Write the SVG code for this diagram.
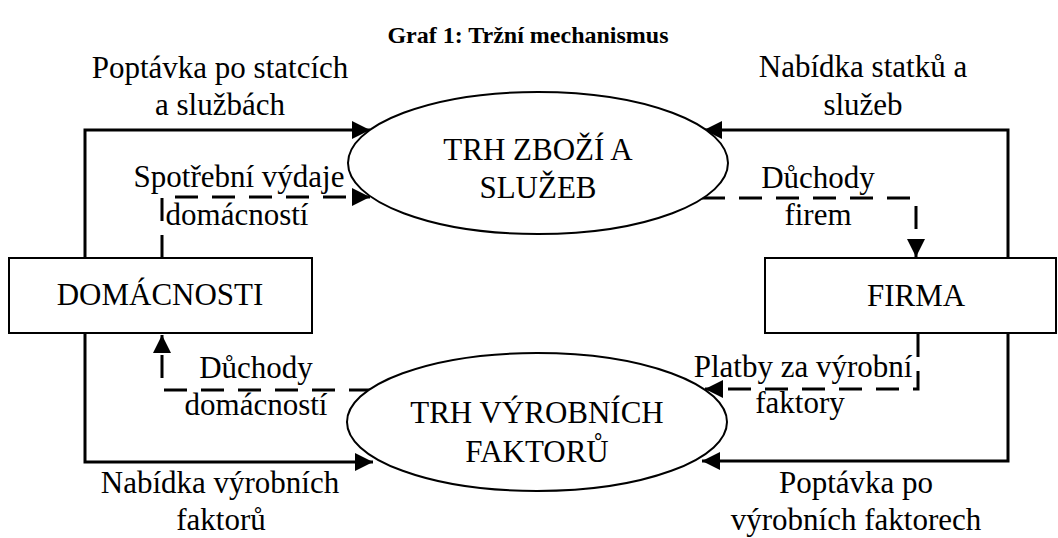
<svg xmlns="http://www.w3.org/2000/svg" width="1058" height="538" viewBox="0 0 1058 538">
<style>
text{font-family:"Liberation Serif","Times New Roman",serif;font-size:31px;fill:#000;text-anchor:middle}
.title{font-weight:bold;font-size:24px}
.shape{fill:#fff;stroke:#000;stroke-width:2}
.solid{fill:none;stroke:#000;stroke-width:3}
.dash{fill:none;stroke:#000;stroke-width:3;stroke-dasharray:23 14}
</style>
<defs>
<marker id="ah" markerUnits="userSpaceOnUse" markerWidth="18" markerHeight="18" refX="18" refY="9" orient="auto">
<path d="M0,0 L18,9 L0,18 z" fill="#000"/>
</marker>
</defs>
<rect width="1058" height="538" fill="#fff"/>
<text class="title" x="528" y="43">Graf 1: Tržní mechanismus</text>
<g id="connectors">
<path class="solid" d="M85,258 V130 H370" marker-end="url(#ah)"/>
<path class="solid" d="M85,333 V462 H373" marker-end="url(#ah)"/>
<path class="solid" d="M1008,258 V130 H704" marker-end="url(#ah)"/>
<path class="solid" d="M1008,333 V461 H702" marker-end="url(#ah)"/>
<path class="dash" d="M162,258 V197 H370" marker-end="url(#ah)"/>
<path class="dash" d="M702,198 H916 V257" marker-end="url(#ah)"/>
<path class="dash" d="M918,334 V389 H705" marker-end="url(#ah)"/>
<path class="dash" d="M372,390 H162 V335" marker-end="url(#ah)"/>
</g>
<g id="trh-zbozi">
<ellipse class="shape" cx="538" cy="163" rx="190" ry="71"/>
<text x="538" y="160">TRH ZBOŽÍ A</text>
<text x="538" y="198">SLUŽEB</text>
</g>
<g id="trh-faktoru">
<ellipse class="shape" cx="537" cy="422" rx="190" ry="69"/>
<text x="537" y="423">TRH VÝROBNÍCH</text>
<text x="537" y="462">FAKTORŮ</text>
</g>
<g id="domacnosti">
<rect class="shape" x="9" y="258" width="303" height="75"/>
<text x="160" y="305">DOMÁCNOSTI</text>
</g>
<g id="firma">
<rect class="shape" x="765" y="258" width="291" height="75"/>
<text x="916" y="306">FIRMA</text>
</g>
<g id="labels">
<text x="220" y="78">Poptávka po statcích</text>
<text x="220" y="115">a službách</text>
<text x="863" y="77">Nabídka statků a</text>
<text x="863" y="115">služeb</text>
<text x="239" y="187">Spotřební výdaje</text>
<text x="237" y="225">domácností</text>
<text x="818" y="188">Důchody</text>
<text x="818" y="225">firem</text>
<text x="256" y="378">Důchody</text>
<text x="256" y="415">domácností</text>
<text x="803" y="377">Platby za výrobní</text>
<text x="800" y="413">faktory</text>
<text x="220" y="493">Nabídka výrobních</text>
<text x="221" y="530">faktorů</text>
<text x="856" y="493">Poptávka po</text>
<text x="856" y="530">výrobních faktorech</text>
</g>
</svg>
